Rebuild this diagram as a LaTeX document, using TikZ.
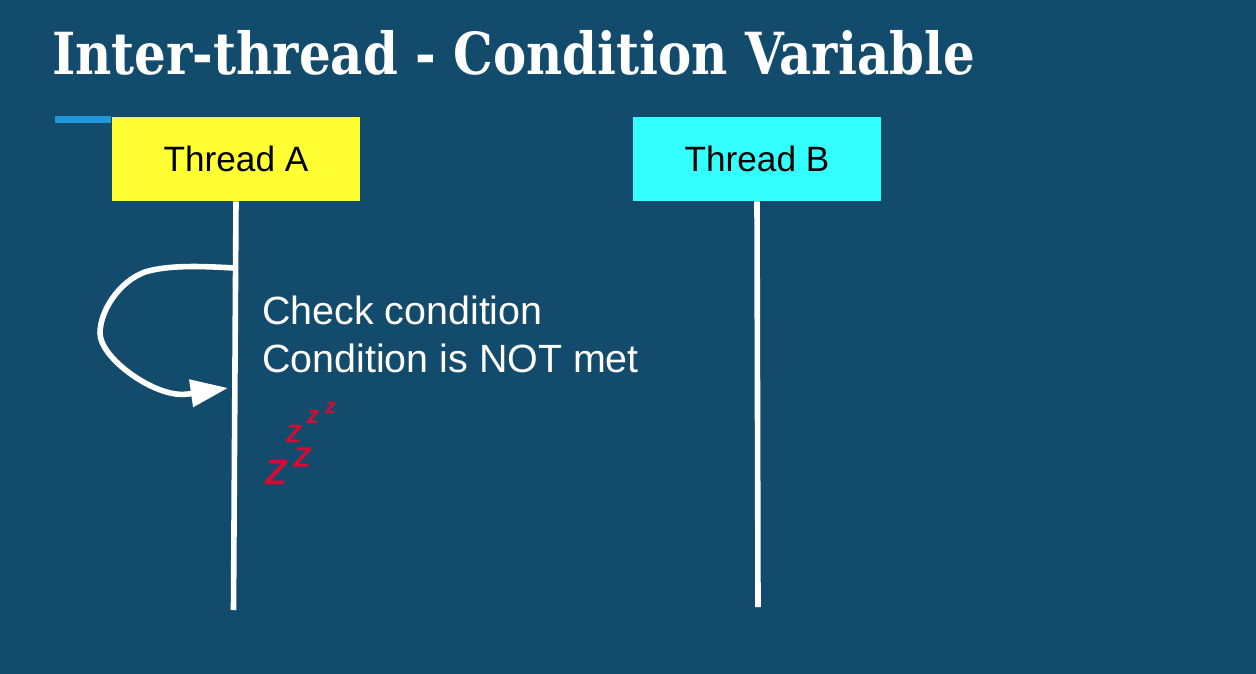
\documentclass[tikz,border=0pt]{standalone}
\usepackage{fontspec}
\setmainfont{Liberation Sans}
\newfontfamily\titlefont[FakeStretch=0.86]{DejaVu Serif}
\newfontfamily\sleepfont[FakeBold=1.2]{Liberation Sans}
\usetikzlibrary{arrows.meta}
\definecolor{slidebg}{RGB}{19,75,108}
\definecolor{threadyellow}{RGB}{255,255,51}
\definecolor{threadcyan}{RGB}{51,255,255}
\definecolor{accentblue}{RGB}{33,150,216}
\definecolor{sleepred}{RGB}{214,12,50}
\tikzset{
  threadbox/.style={minimum width=186.5pt,minimum height=63pt,inner sep=0pt,font=\fontsize{26.4pt}{30pt}\selectfont},
  lifeline/.style={draw=white,line width=4.2pt},
  sleepz/.style={text=sleepred,inner sep=0pt}
}

\begin{document}
\begin{tikzpicture}[x=0.75pt,y=0.75pt,yscale=-1,xscale=1]
\fill [slidebg] (0,0) rectangle (1256,674);
\useasboundingbox (0,0) rectangle (1256,674);

% Title
\node (title) at (52,53) [anchor=west,inner sep=0pt,text=white,font=\titlefont\bfseries\fontsize{43.5pt}{50pt}\selectfont] {Inter-thread - Condition Variable};

% Accent
\coordinate (accentl) at (55,119.5);
\coordinate (accentr) at (111,119.5);
\draw [draw=accentblue,line width=4.6pt] (accentl) -- (accentr);

% Boxes
\node (threada) at (236,159) [threadbox,fill=threadyellow] {Thread A};
\node (threadb) at (757,159) [threadbox,fill=threadcyan] {Thread B};

% Lifelines
\coordinate (enda) at (233.5,610);
\coordinate (endb) at (758,607);
\draw [lifeline] (threada.south) -- (enda);
\draw [lifeline] (threadb.south) -- (endb);

% Loop
\coordinate (loopout) at (234,268);
\coordinate (loopin) at (228,388);
\draw [draw=white,line width=4.2pt,-{Triangle[length=28pt,width=20pt,fill=white]}] (loopout) .. controls (200,266) and (168,265) .. (145,272) .. controls (118,282) and (100,312) .. (100,333) .. controls (100,356) and (145,390) .. (176,394) .. controls (186,395.5) and (200,392) .. (loopin);

% Text
\node (check) at (262,334.5) [anchor=west,inner sep=0pt,align=left,text=white,font=\fontsize{29.55pt}{35.6pt}\selectfont] {Check condition\\Condition is NOT met};

% Sleeping
\node (za) at (276.5,472) [sleepz,font=\sleepfont\itshape\fontsize{34pt}{34pt}\selectfont] {z};
\node (zb) at (302.5,457) [sleepz,font=\sleepfont\itshape\fontsize{27pt}{27pt}\selectfont] {z};
\node (zc) at (294,433.5) [sleepz,font=\sleepfont\itshape\fontsize{24pt}{24pt}\selectfont] {z};
\node (zd) at (313,417.5) [sleepz,font=\bfseries\itshape\fontsize{18.4pt}{18pt}\selectfont] {z};
\node (ze) at (330.5,408.5) [sleepz,font=\bfseries\itshape\fontsize{15.6pt}{15pt}\selectfont] {z};
\end{tikzpicture}
\end{document}
